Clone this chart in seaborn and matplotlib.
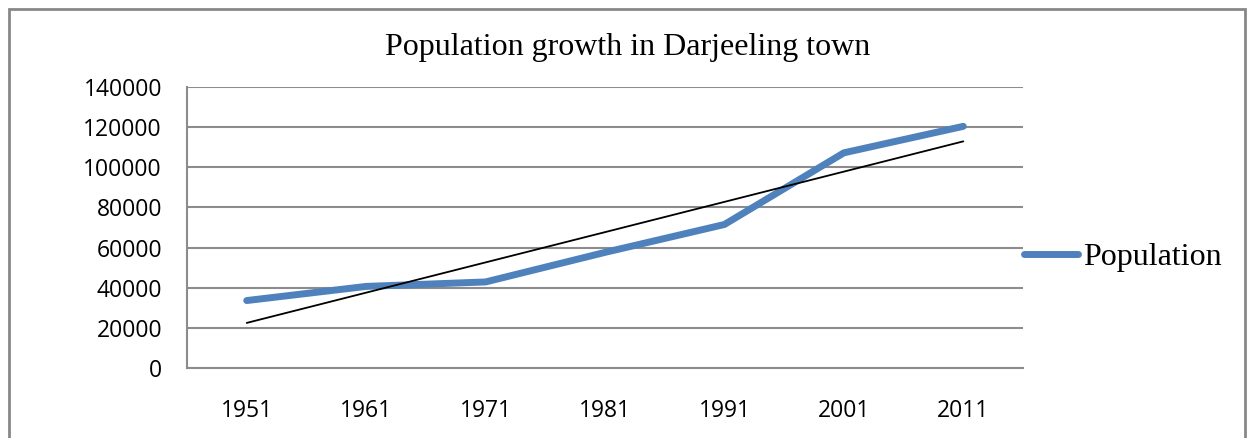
import matplotlib
matplotlib.use('Agg')
import matplotlib.pyplot as plt
import matplotlib.patches as mpatches
import seaborn as sns
import numpy as np
import pandas as pd

# Census years and population
years = ['1951', '1961', '1971', '1981', '1991', '2001', '2011']
population = [33605, 40651, 42873, 57603, 71500, 107200, 120400]
y_ticks = [0, 20000, 40000, 60000, 80000, 100000, 120000, 140000]

BLUE = '#4F81BD'
GRID = '#8C8C8C'

def main():
    sns.set_style('white')
    plt.rcParams['font.family'] = ['Open Sans', 'DejaVu Sans']
    plt.rcParams['text.color'] = 'black'
    plt.rcParams['xtick.color'] = 'black'
    plt.rcParams['ytick.color'] = 'black'

    df = pd.DataFrame({'year': years, 'pos': np.arange(len(years)), 'population': population})

    fig = plt.figure(figsize=(12.49, 4.38), dpi=100)
    ax = fig.add_axes([187 / 1249, 1 - 368 / 438, (1023 - 187) / 1249, (368 - 87) / 438])

    # Gridlines behind everything
    for v in y_ticks:
        ax.axhline(v, color=GRID, lw=1.5, zorder=0)

    sns.lineplot(data=df, x='pos', y='population', color=BLUE, lw=5,
                 solid_capstyle='round', label='Population', ax=ax, zorder=3)
    # Linear trendline
    sns.regplot(data=df, x='pos', y='population', scatter=False, ci=None,
                color='black', line_kws={'lw': 1.3, 'zorder': 4}, ax=ax)

    ax.set_xlim(-0.5, len(years) - 0.5)
    ax.set_ylim(0, 140000)
    ax.set_yticks(y_ticks)
    ax.set_yticklabels([str(v) for v in y_ticks], fontsize=16.5)
    ax.set_xticks(np.arange(len(years)))
    ax.set_xticklabels(years, fontsize=16.5)
    ax.tick_params(axis='y', length=0, pad=18)
    ax.tick_params(axis='x', length=0, pad=22)
    ax.set_xlabel('')
    ax.set_ylabel('')

    for side in ['top', 'right']:
        ax.spines[side].set_visible(False)
    ax.spines['left'].set_color(GRID)
    ax.spines['left'].set_linewidth(1.5)
    ax.spines['bottom'].set_color(GRID)
    ax.spines['bottom'].set_linewidth(1.5)

    fig.text(628 / 1249, 1 - 47 / 438, 'Population growth in Darjeeling town',
             ha='center', va='center', fontsize=23, family=['Liberation Serif'],
             color='black')

    leg = ax.legend(loc='center left', bbox_to_anchor=(1011 / 1249, 1 - 257 / 438),
                    bbox_transform=fig.transFigure, frameon=False,
                    prop={'family': 'Liberation Serif', 'size': 23},
                    handlelength=1.7, handletextpad=0.15, borderaxespad=0)
    for h in leg.get_lines():
        h.set_linewidth(5)
    for t in leg.get_texts():
        t.set_color('black')

    # Chart border
    border = mpatches.Rectangle((9 / 1249, -0.1), (1245 - 9) / 1249, 1.1 - 9 / 438,
                                transform=fig.transFigure, fill=False,
                                edgecolor='#888888', lw=2, clip_on=False)
    fig.patches.append(border)

    fig.savefig('out.png', dpi=100)

if __name__ == '__main__':
    main()
